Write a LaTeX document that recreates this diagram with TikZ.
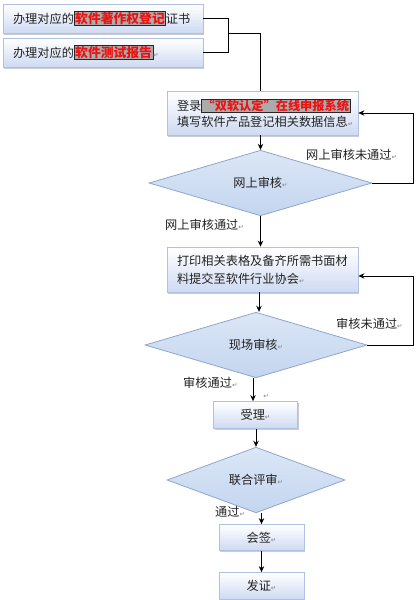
\documentclass[tikz,border=0pt]{standalone}
\usepackage{fontspec}
\setmainfont{Noto Sans CJK SC}
\newfontfamily\symf{DejaVu Sans}
\usetikzlibrary{shapes.geometric,arrows.meta,calc}
\definecolor{boxdraw}{HTML}{AFC2E2}
\definecolor{boxbot}{HTML}{D0DBF2}
\definecolor{dtop}{HTML}{DCE7F6}
\definecolor{dbot}{HTML}{C3D5EF}
\definecolor{ddraw}{HTML}{8EA6CC}
\definecolor{hlgray}{HTML}{ABABAB}
\definecolor{hlred}{HTML}{EE1111}
\definecolor{txt}{HTML}{222222}
\definecolor{shad}{HTML}{C8CCD4}
\pgfdeclareverticalshading{diashade}{100bp}{color(0bp)=(dbot); color(25bp)=(dbot); color(75bp)=(dtop); color(100bp)=(dtop)}
\newcommand{\retmark}{{\symf\fontsize{6.5}{6.5}\selectfont\textcolor{gray}{↵}}}
\newcommand{\hilite}[2][12.8]{{\setlength{\fboxsep}{0.6pt}\setlength{\fboxrule}{0.6pt}\fcolorbox{black!85}{hlgray}{\fontsize{#1}{14}\selectfont\bfseries\color{hlred}#2}}}
\begin{document}
\begin{tikzpicture}[x=1pt,y=-1pt,
  font=\fontsize{12.2}{16}\selectfont\color{txt},
  box/.style={rectangle, draw=boxdraw, line width=0.8pt, fill=white,
    preaction={draw=none, fill=shad, transform canvas={xshift=1.3pt,yshift=-1.7pt}},
    path picture={
      \foreach \i in {0,...,19}{
        \pgfmathtruncatemacro{\pc}{\i*100/19}
        \fill[boxbot!\pc!white]
          ($(path picture bounding box.north west)!\i/20!(path picture bounding box.south west)$)
          rectangle
          ($(path picture bounding box.north east)!{min(1,(\i+1.4)/20)}!(path picture bounding box.south east)$);
      }},
    inner ysep=0pt, align=left},
  dia/.style={diamond, draw=ddraw, shade, shading=diashade, inner sep=0pt, line width=0.8pt},
  arr/.style={-{Stealth[length=6pt,width=5.5pt]}, line width=0.8pt},
  ln/.style={line width=0.8pt},
  lbl/.style={inner sep=0pt, anchor=west}]
\useasboundingbox (0,0) rectangle (417,600);
% top boxes
\node[box, inner xsep=10pt, text width=180pt, minimum height=29pt] (b1) at (103,18.5)
  {办理对应的\hilite{软件著作权登记}证书};
\node[box, inner xsep=10pt, text width=180pt, minimum height=29pt] (b2) at (103,52.5)
  {办理对应的\hilite{软件测试报告}\retmark};
% box 3
\node[box, inner xsep=10pt, text width=171pt, minimum height=44pt] (b3) at (262.5,113)
  {登录\hilite[12.2]{“双软认定”在线申报系统}\\填写软件产品登记相关数据信息\retmark};
% diamond 1
\node[dia, minimum width=223pt, minimum height=47pt] (d1) at (260.5,183) {网上审核\retmark};
% box 4
\node[box, inner xsep=10pt, text width=171pt, minimum height=45pt, font=\fontsize{12.2}{18}\selectfont\color{txt}] (b4) at (262.5,269.5)
  {打印相关表格及备齐所需书面材\\料提交至软件行业协会\retmark};
% diamond 2
\node[dia, minimum width=222pt, minimum height=45pt] (d2) at (256,345) {现场审核\retmark};
% box 5
\node[box, align=center, minimum width=84pt, minimum height=27pt] (b5) at (255.5,415) {受理\retmark};
% diamond 3
\node[dia, minimum width=178pt, minimum height=40pt] (d3) at (256,480) {联合评审\retmark};
% box 6, 7
\node[box, align=center, minimum width=85pt, minimum height=26pt] (b6) at (261.5,537.5) {会签\retmark};
\node[box, align=center, minimum width=85pt, minimum height=27pt] (b7) at (261.5,586) {发证\retmark};

% bracket
\coordinate (j) at (228,33);
\coordinate (k) at (260,33);
\draw[ln] (b1.east) -| (j);
\draw[ln] (b2.east) -| (j);
\draw[ln] (j) -- (k) -- (k |- b3.north);
% main flow
\draw[arr] (b3.south -| d1.north) -- (d1.north);
\draw[arr] (d1.south) -- (d1.south |- b4.north);
\draw[arr] (b4.south -| 259,0) -- (259,0 |- d2.north);
\draw[arr] (253,0 |- d2.south) -- (253,0 |- b5.north);
\draw[arr] (b5.south -| d3.north) -- (d3.north);
\draw[arr] (d3.south -| b6.north) -- (b6.north);
\draw[arr] (b6.south) -- (b7.north);
% feedback loops
\coordinate (f1) at (413,183);
\coordinate (f2) at (413,345);
\draw[arr] (d1.east) -- (f1) |- (b3.east);
\draw[arr] (d2.east) -- (f2) |- ([yshift=-6.5pt]b4.east);
% labels
\node[lbl] (l1) at (306,155) {网上审核未通过\retmark};
\node[lbl] (l2) at (165,225) {网上审核通过\retmark};
\node[lbl] (l3) at (336,324) {审核未通过\retmark};
\node[lbl] (l4) at (183,383) {审核通过\retmark};
\node[lbl] (l5) at (215,512) {通过\retmark};
\node[inner sep=0pt] (l6) at (266,396) {\retmark};
\end{tikzpicture}
\end{document}
